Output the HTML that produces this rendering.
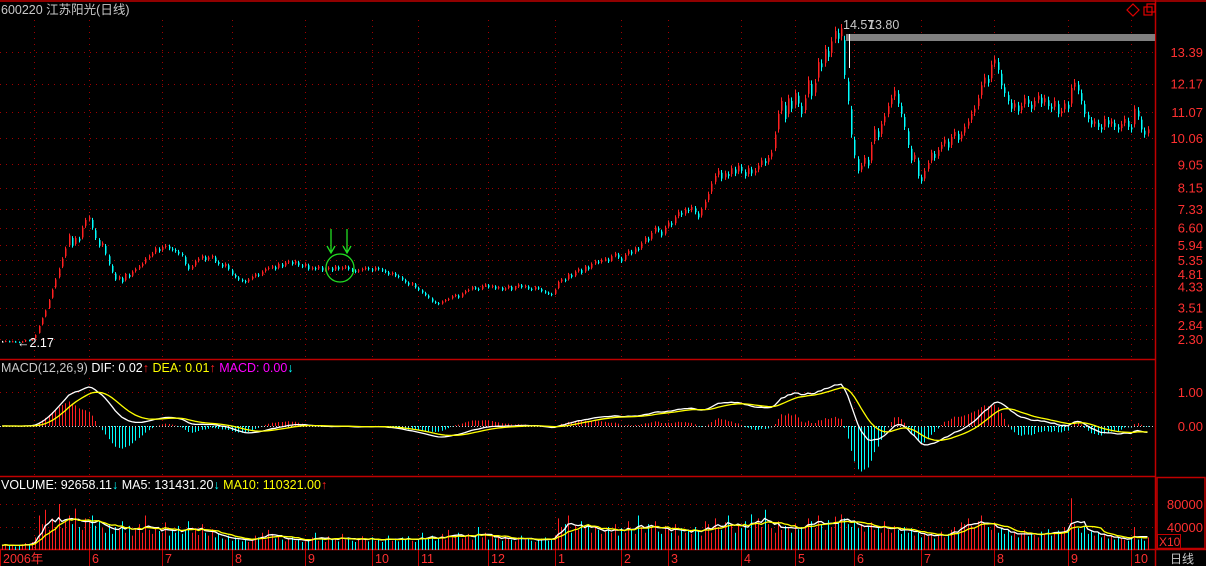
<!DOCTYPE html>
<html><head><meta charset="utf-8">
<style>
html,body{margin:0;padding:0;background:#000;}
body{width:1206px;height:566px;overflow:hidden;position:relative;font-family:"Liberation Sans","Noto Sans CJK SC",sans-serif;}
svg{position:absolute;left:0;top:0;}
</style></head>
<body>
<svg id="chart" width="1206" height="566" xmlns="http://www.w3.org/2000/svg"></svg>
<script>
const closes=[2.20,2.22,2.19,2.21,2.18,2.17,2.20,2.25,2.24,2.30,
2.45,2.80,3.10,3.40,3.80,4.20,4.60,
5.00,5.40,5.80,6.30,5.90,6.20,6.10,
6.60,6.90,7.00,6.60,
6.20,5.90,6.00,5.60,5.20,4.90,
4.60,4.70,4.50,4.80,4.70,
4.90,5.00,5.10,5.20,5.40,5.50,5.60,5.80,5.70,5.85,
5.90,5.80,5.75,5.70,5.60,5.55,5.20,5.00,
5.10,5.30,5.40,5.50,5.35,5.45,5.50,5.30,
5.20,5.10,5.20,5.00,4.80,4.70,4.60,4.55,4.50,
4.60,4.70,4.80,4.75,4.90,5.00,5.05,
5.10,5.00,5.20,5.10,5.25,5.30,5.20,5.30,5.15,5.10,5.20,5.00,
5.05,5.00,5.10,4.95,5.00,5.05,4.95,5.10,5.00,5.05,5.10,5.00,4.95,4.90,4.95,5.00,
5.05,5.00,4.95,5.05,5.00,4.95,4.90,4.80,4.85,4.75,
4.70,4.60,4.50,4.40,4.45,4.30,4.20,4.10,
4.00,3.90,3.75,3.70,3.65,3.75,3.80,
3.85,3.95,4.00,3.90,4.05,4.15,4.20,4.30,4.25,4.20,4.35,
4.40,4.30,4.35,4.25,4.30,4.20,
4.25,4.35,4.20,4.30,4.40,4.30,4.35,4.25,4.20,4.30,4.25,4.15,4.10,4.05,4.00,4.20,
4.50,4.60,4.55,4.80,4.70,4.90,5.00,4.85,5.10,5.00,5.20,5.30,5.25,
5.35,5.40,5.30,5.50,5.60,5.45,5.30,5.55,5.70,5.60,5.80,5.75,
6.00,6.20,6.10,6.40,6.60,6.50,6.30,6.60,6.80,6.70,7.00,7.20,7.10,7.30,7.25,7.40,7.20,7.00,7.30,
7.60,7.90,8.30,8.60,8.80,8.50,8.70,8.60,8.90,
8.70,9.00,8.80,8.60,8.90,8.70,8.80,9.00,9.20,9.10,9.30,9.50,
10.20,11.00,11.50,10.80,11.60,11.20,11.80,11.40,
11.00,11.60,12.30,11.70,12.20,13.00,12.80,13.50,13.20,13.80,14.20,13.90,14.30,
12.50,11.50,10.20,9.40,8.80,9.00,
9.30,9.00,9.80,10.40,10.10,10.60,10.90,11.30,11.60,11.90,11.40,11.00,
10.50,9.80,9.20,9.40,8.60,8.40,
8.80,9.10,9.50,9.30,9.60,9.80,10.00,9.70,10.10,10.30,10.00,10.20,10.50,10.70,11.00,11.20,11.60,12.10,
12.40,12.20,12.90,13.10,12.70,12.10,11.80,11.50,
11.20,11.40,11.10,11.30,11.60,11.40,11.20,11.50,11.70,11.40,11.60,11.30,11.20,11.50,11.00,11.10,
11.40,11.20,12.00,12.20,11.90,11.50,11.00,10.80,
10.60,10.70,10.50,10.40,10.80,10.60,10.70,10.50,10.40,10.60,10.80,10.50,10.40,11.20,10.90,10.40,10.20,10.40];
const volumesK=[8,10,7,9,6,8,10,12,9,14,22,
60,45,70,35,55,40,80,38,50,60,45,72,40,35,55,48,60,42,50,38,
30,45,28,40,35,50,30,42,25,38,45,30,60,35,28,40,33,30,48,25,36,30,42,28,35,50,30,38,26,45,
30,25,36,22,28,20,18,25,16,22,18,15,20,14,18,25,22,30,18,35,28,20,24,18,15,20,22,16,18,14,
15,18,22,30,16,20,14,24,18,20,15,28,18,22,16,14,20,24,18,15,22,16,20,14,18,25,16,20,15,22,18,24,16,14,20,30,18,22,25,16,
20,28,18,35,22,25,30,20,24,28,18,26,40,22,30,18,25,20,22,16,24,20,18,15,22,25,18,20,16,14,18,20,22,16,18,25,
55,40,45,60,30,42,35,50,38,45,30,40,35,28,32,40,30,45,25,38,30,50,35,28,60,40,30,45,38,50,32,28,42,36,
30,45,25,38,30,35,28,40,32,25,50,45,30,55,40,35,48,60,42,30,45,38,50,35,62,48,55,40,70,45,38,30,50,35,42,38,30,45,36,40,
42,55,50,38,60,45,35,52,40,58,48,62,55,45,40,50,38,45,32,42,48,35,40,30,50,36,30,42,35,28,40,30,38,25,30,22,28,24,30,20,
25,32,22,28,35,40,30,48,45,55,42,38,50,60,45,40,35,48,30,38,28,35,25,30,22,28,35,24,30,26,22,32,28,36,25,30,34,28,40,35,
90,45,38,30,42,28,32,25,30,22,28,20,24,18,22,20,18,16,22,40,18,20,16,22];
const priceTicks=[13.39,12.17,11.07,10.06,9.05,8.15,7.33,6.60,5.94,5.35,4.81,4.33,3.51,2.84,2.30];
const macdTicks=[1.00,0.00];
const volTicks=[80000,40000];
const monthLabels=["2006年","6","7","8","9","10","11","12","1","2","3","4","5","6","7","8","9","10"];
const monthIdx=[0,26,48,69,91,111,125,146,166,186,200,222,238,256,276,298,320,339];

const svg=document.getElementById('chart');
const NS='http://www.w3.org/2000/svg';
function el(tag,attrs,parent){const e=document.createElementNS(NS,tag);for(const k in attrs)e.setAttribute(k,attrs[k]);(parent||svg).appendChild(e);return e;}
const SP=3.33;
const xOf=i=>2+i*SP;
const yP=p=>52+(13.39-p)*25.88;
const yM=v=>426-v*34;
const yV=v=>550-v*23/40000;
const GRID='#a00000';

function hline(y,x1,x2,name){const l=el('line',{x1:x1,x2:x2,y1:y,y2:y,stroke:'#c00000','stroke-width':1.5});

}
hline(1,0,1206,'top-border');hline(359.5,0,1156,'price-panel-border');hline(476.5,0,1156,'macd-panel-border');hline(549.5,0,1206,'date-axis-border');
const vl=el('line',{x1:1155.5,x2:1155.5,y1:0,y2:566,stroke:'#c00000','stroke-width':1.5});


const vbox=el('rect',{x:1157,y:477.5,width:48,height:71,fill:'none',stroke:'#c00000','stroke-width':1.5});



const gridG=el('g',{stroke:GRID,'stroke-width':1,'stroke-dasharray':'1,5'});


priceTicks.forEach(p=>{el('line',{x1:0,x2:1155,y1:Math.round(yP(p))+.5,y2:Math.round(yP(p))+.5},gridG);});
macdTicks.forEach(v=>{if(v!==0)el('line',{x1:0,x2:1155,y1:Math.round(yM(v))+.5,y2:Math.round(yM(v))+.5},gridG);});
volTicks.forEach(v=>{el('line',{x1:0,x2:1155,y1:Math.round(yV(v))+.5,y2:Math.round(yV(v))+.5},gridG);});
const vxs=[34].concat(monthIdx.slice(1).map(i=>xOf(i)));
vxs.forEach(x=>{const xx=Math.round(x)+.5;el('line',{x1:xx,x2:xx,y1:20,y2:358},gridG);el('line',{x1:xx,x2:xx,y1:378,y2:475},gridG);el('line',{x1:xx,x2:xx,y1:493,y2:548},gridG);});

const candG=el('g',{});


closes.forEach((c,i)=>{
  const prev=i===0?c:closes[i-1];
  const o=prev+(c-prev)*0.25;
  const hi=Math.max(o,c)*1.012, lo=Math.min(o,c)*0.988;
  const col=c>prev?'#ff2020':(c<prev?'#00ffff':'#ffffff');
  const x=Math.round(xOf(i));
  const g=el('g',{},candG);
  
  
  el('line',{x1:x+.5,x2:x+.5,y1:yP(hi),y2:yP(lo),stroke:col,'stroke-width':1},g);
  const y1=Math.min(yP(o),yP(c)),h=Math.max(1,Math.abs(yP(o)-yP(c)));
  el('rect',{x:x,y:y1,width:1.5,height:h,fill:col},g);
});

function ema(arr,n){const k=2/(n+1);const out=[];arr.forEach((v,i)=>out.push(i===0?v:out[i-1]+k*(v-out[i-1])));return out;}
const e12=ema(closes,12),e26=ema(closes,26);
const dif=closes.map((_,i)=>e12[i]-e26[i]);
const dea=ema(dif,9);
const hist=dif.map((d,i)=>2*(d-dea[i]));
const histG=el('g',{});


hist.forEach((h,i)=>{const x=Math.round(xOf(i))+.5;el('line',{x1:x,x2:x,y1:yM(0),y2:yM(h),stroke:h>=0?'#ff2020':'#00ffff','stroke-width':1},histG);});
const zl=el('line',{x1:0,x2:1155,y1:426.5,y2:426.5,stroke:'#cccccc','stroke-width':1,'stroke-dasharray':'1,2'});


function poly(vals,fy,col,name){const p=el('polyline',{points:vals.map((v,i)=>xOf(i).toFixed(1)+','+fy(v).toFixed(1)).join(' '),fill:'none',stroke:col,'stroke-width':1.3});

}
poly(dif,yM,'#ffffff','dif-line');poly(dea,yM,'#ffff00','dea-line');

const vols=volumesK.map(v=>v*1000);
const volG=el('g',{});


vols.forEach((v,i)=>{const c=closes[i],o=i===0?c:closes[i-1];const x=Math.round(xOf(i))+.5;
  el('line',{x1:x,x2:x,y1:550,y2:yV(v),stroke:c>=o?'#ff2020':'#00ffff','stroke-width':1},volG);});
function ma(arr,n){return arr.map((_,i)=>{const s=arr.slice(Math.max(0,i-n+1),i+1);return s.reduce((a,b)=>a+b,0)/s.length;});}
poly(ma(vols,5),yV,'#ffffff','volume-ma5-line');poly(ma(vols,10),yV,'#ffff00','volume-ma10-line');

function txt(x,y,s,col,size,name,anchor){const t=el('text',{x:x,y:y,fill:col,'font-size':size||12,'text-anchor':anchor||'start','font-family':'"Liberation Sans","Noto Sans CJK SC",sans-serif'});t.textContent=s;

return t;}
txt(1,14,'600220 江苏阳光(日线)','#c8c8c8',12.5,'chart-title');
priceTicks.forEach(p=>txt(1203,yP(p)+5,p.toFixed(2),'#ff3030',13,'price-tick-label','end'));
macdTicks.forEach(v=>txt(1203,yM(v)+5,v.toFixed(2),'#ff3030',13,'macd-tick-label','end'));
volTicks.forEach(v=>txt(1203,yV(v)+5,String(v),'#ff3030',13,'volume-tick-label','end'));
const xb=el('rect',{x:1157.5,y:534.5,width:23,height:14,fill:'none',stroke:'#c00000'});


txt(1159,546,'X10','#ff3030',12,'x10-label');
txt(1170,563,'日线','#c8c8c8',12,'period-label');
monthLabels.forEach((m,i)=>{const x=i===0?0:Math.round(xOf(monthIdx[i]));
  const t=el('line',{x1:x+.5,x2:x+.5,y1:550,y2:566,stroke:'#c00000'});
  
  
  txt(x+3,563,m,'#ff3030',12.5,'month-label');});

function legend(y,parts,name){const t=el('text',{x:1,y:y,'font-size':12.5,'font-family':'"Liberation Sans","Noto Sans CJK SC",sans-serif'});


parts.forEach(p=>{const s=el('tspan',{fill:p[1]},t);s.textContent=p[0];});}
legend(372,[['MACD(12,26,9)  ','#c8c8c8'],['DIF: 0.02','#ffffff'],['↑  ','#ff2020'],['DEA: 0.01','#ffff00'],['↑  ','#ff2020'],['MACD: 0.00','#ff00ff'],['↓','#00ffff']],'macd-legend');
legend(489,[['VOLUME: 92658.11','#ffffff'],['↓  ','#00ffff'],['MA5: 131431.20','#ffffff'],['↓  ','#00ffff'],['MA10: 110321.00','#ffff00'],['↑','#ff2020']],'volume-legend');

const gb=el('rect',{x:846,y:34,width:309,height:7,fill:'#808080'});


const wl=el('line',{x1:849.5,x2:849.5,y1:34,y2:68,stroke:'#ffffff'});


txt(843,29,'14.57','#c8c8c8',12.5,'high-price-label');
txt(868,29,'13.80','#c8c8c8',12.5,'price-label');
txt(17,347,'←2.17','#ffffff',12.5,'low-price-label');
const circ=el('circle',{cx:340,cy:268,r:14,fill:'none',stroke:'#22dd22','stroke-width':1.3});


[331,347].forEach(x=>{const a=el('path',{d:`M${x},229 L${x},253 M${x-4},246 L${x},253 L${x+4},246`,fill:'none',stroke:'#22dd22','stroke-width':1.3});

});
const dm=el('path',{d:'M1133,4 L1139,10 L1133,16 L1127,10 Z',fill:'none',stroke:'#e00000','stroke-width':1.2});


const sq=el('g',{fill:'none',stroke:'#e00000','stroke-width':1.2});


el('rect',{x:1144,y:7,width:8,height:8},sq);el('rect',{x:1147,y:4,width:8,height:8},sq);
</script>
</body></html>
